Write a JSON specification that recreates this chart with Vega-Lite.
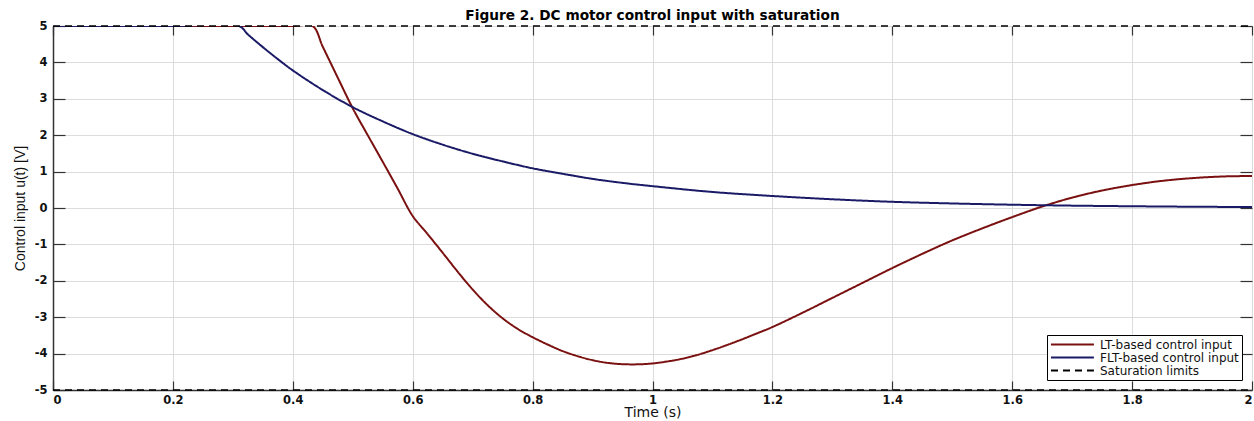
{
  "$schema": "https://vega.github.io/schema/vega-lite/v6.json",
  "autosize": {"type": "none"},
  "width": 1199,
  "height": 364,
  "padding": {"left": 53, "top": 26, "right": 2, "bottom": 31},
  "background": "white",
  "title": {"text": "Figure 2. DC motor control input with saturation", "font": "DejaVu Sans", "fontSize": 13.7, "fontWeight": "bold", "color": "black", "anchor": "middle", "offset": -3},
  "datasets": {
    "curves": [
      {"series": "LT-based control input", "t": 0, "u": 5},
      {"series": "LT-based control input", "t": 0.2, "u": 5},
      {"series": "LT-based control input", "t": 0.4, "u": 5},
      {"series": "LT-based control input", "t": 0.433, "u": 5},
      {"series": "LT-based control input", "t": 0.45, "u": 4.43},
      {"series": "LT-based control input", "t": 0.475, "u": 3.58},
      {"series": "LT-based control input", "t": 0.5, "u": 2.74},
      {"series": "LT-based control input", "t": 0.525, "u": 2.0},
      {"series": "LT-based control input", "t": 0.55, "u": 1.27},
      {"series": "LT-based control input", "t": 0.575, "u": 0.53},
      {"series": "LT-based control input", "t": 0.6, "u": -0.22},
      {"series": "LT-based control input", "t": 0.625, "u": -0.72},
      {"series": "LT-based control input", "t": 0.65, "u": -1.23},
      {"series": "LT-based control input", "t": 0.675, "u": -1.75},
      {"series": "LT-based control input", "t": 0.7, "u": -2.24},
      {"series": "LT-based control input", "t": 0.725, "u": -2.67},
      {"series": "LT-based control input", "t": 0.75, "u": -3.03},
      {"series": "LT-based control input", "t": 0.775, "u": -3.32},
      {"series": "LT-based control input", "t": 0.8, "u": -3.55},
      {"series": "LT-based control input", "t": 0.825, "u": -3.75},
      {"series": "LT-based control input", "t": 0.85, "u": -3.93},
      {"series": "LT-based control input", "t": 0.875, "u": -4.07},
      {"series": "LT-based control input", "t": 0.9, "u": -4.18},
      {"series": "LT-based control input", "t": 0.925, "u": -4.255},
      {"series": "LT-based control input", "t": 0.95, "u": -4.29},
      {"series": "LT-based control input", "t": 0.975, "u": -4.295},
      {"series": "LT-based control input", "t": 1.0, "u": -4.27},
      {"series": "LT-based control input", "t": 1.025, "u": -4.215},
      {"series": "LT-based control input", "t": 1.05, "u": -4.14},
      {"series": "LT-based control input", "t": 1.075, "u": -4.035},
      {"series": "LT-based control input", "t": 1.1, "u": -3.905},
      {"series": "LT-based control input", "t": 1.125, "u": -3.76},
      {"series": "LT-based control input", "t": 1.15, "u": -3.605},
      {"series": "LT-based control input", "t": 1.175, "u": -3.44},
      {"series": "LT-based control input", "t": 1.2, "u": -3.27},
      {"series": "LT-based control input", "t": 1.25, "u": -2.88},
      {"series": "LT-based control input", "t": 1.3, "u": -2.47},
      {"series": "LT-based control input", "t": 1.35, "u": -2.06},
      {"series": "LT-based control input", "t": 1.4, "u": -1.65},
      {"series": "LT-based control input", "t": 1.45, "u": -1.26},
      {"series": "LT-based control input", "t": 1.5, "u": -0.89},
      {"series": "LT-based control input", "t": 1.55, "u": -0.56},
      {"series": "LT-based control input", "t": 1.6, "u": -0.25},
      {"series": "LT-based control input", "t": 1.65, "u": 0.04},
      {"series": "LT-based control input", "t": 1.7, "u": 0.285},
      {"series": "LT-based control input", "t": 1.75, "u": 0.48},
      {"series": "LT-based control input", "t": 1.8, "u": 0.63},
      {"series": "LT-based control input", "t": 1.85, "u": 0.745},
      {"series": "LT-based control input", "t": 1.9, "u": 0.82},
      {"series": "LT-based control input", "t": 1.95, "u": 0.865},
      {"series": "LT-based control input", "t": 2.0, "u": 0.88},
      {"series": "FLT-based control input", "t": 0, "u": 5},
      {"series": "FLT-based control input", "t": 0.2, "u": 5},
      {"series": "FLT-based control input", "t": 0.31, "u": 5},
      {"series": "FLT-based control input", "t": 0.325, "u": 4.77},
      {"series": "FLT-based control input", "t": 0.35, "u": 4.42},
      {"series": "FLT-based control input", "t": 0.375, "u": 4.09},
      {"series": "FLT-based control input", "t": 0.4, "u": 3.78},
      {"series": "FLT-based control input", "t": 0.45, "u": 3.24},
      {"series": "FLT-based control input", "t": 0.5, "u": 2.77},
      {"series": "FLT-based control input", "t": 0.55, "u": 2.38},
      {"series": "FLT-based control input", "t": 0.6, "u": 2.03},
      {"series": "FLT-based control input", "t": 0.65, "u": 1.74},
      {"series": "FLT-based control input", "t": 0.7, "u": 1.49},
      {"series": "FLT-based control input", "t": 0.75, "u": 1.28},
      {"series": "FLT-based control input", "t": 0.8, "u": 1.09},
      {"series": "FLT-based control input", "t": 0.85, "u": 0.94},
      {"series": "FLT-based control input", "t": 0.9, "u": 0.80},
      {"series": "FLT-based control input", "t": 0.95, "u": 0.69},
      {"series": "FLT-based control input", "t": 1.0, "u": 0.60},
      {"series": "FLT-based control input", "t": 1.1, "u": 0.44},
      {"series": "FLT-based control input", "t": 1.2, "u": 0.33},
      {"series": "FLT-based control input", "t": 1.3, "u": 0.24},
      {"series": "FLT-based control input", "t": 1.4, "u": 0.17},
      {"series": "FLT-based control input", "t": 1.5, "u": 0.125},
      {"series": "FLT-based control input", "t": 1.6, "u": 0.09},
      {"series": "FLT-based control input", "t": 1.7, "u": 0.065},
      {"series": "FLT-based control input", "t": 1.8, "u": 0.048},
      {"series": "FLT-based control input", "t": 1.9, "u": 0.035},
      {"series": "FLT-based control input", "t": 2.0, "u": 0.026}
    ],
    "limits": [
      {"series": "Saturation limits", "g": "upper", "t": 0, "u": 5},
      {"series": "Saturation limits", "g": "upper", "t": 2, "u": 5},
      {"series": "Saturation limits", "g": "lower", "t": 0, "u": -5},
      {"series": "Saturation limits", "g": "lower", "t": 2, "u": -5}
    ]
  },
  "resolve": {"axis": {"x": "independent", "y": "independent"}},
  "layer": [
    {
      "data": {"name": "curves"},
      "mark": {"type": "line", "interpolate": "catmull-rom", "strokeWidth": 2, "clip": true},
      "encoding": {
        "x": {"field": "t", "type": "quantitative", "scale": {"domain": [0, 2], "nice": false},
          "axis": {"orient": "bottom", "title": "Time (s)", "titleFontSize": 14, "values": [0, 0.2, 0.4, 0.6, 0.8, 1, 1.2, 1.4, 1.6, 1.8, 2], "labelExpr": "'' + datum.value", "tickSize": -9, "labelPadding": 13, "titlePadding": 0, "grid": true}},
        "y": {"field": "u", "type": "quantitative", "scale": {"domain": [-5, 5], "nice": false},
          "axis": {"orient": "left", "title": "Control input u(t) [V]", "values": [-5, -4, -3, -2, -1, 0, 1, 2, 3, 4, 5], "labelExpr": "'' + datum.value", "tickSize": -12, "labelPadding": 18, "titlePadding": 7, "grid": true}},
        "color": {"field": "series", "type": "nominal", "scale": {"domain": ["LT-based control input", "FLT-based control input", "Saturation limits"], "range": ["#7a1010", "#1a1a66", "#000000"]}, "legend": {"title": null}},
        "strokeDash": {"field": "series", "type": "nominal", "scale": {"domain": ["LT-based control input", "FLT-based control input", "Saturation limits"], "range": [[1, 0], [1, 0], [7, 5]]}, "legend": {"title": null}},
        "order": {"field": "t"}
      }
    },
    {
      "data": {"name": "limits"},
      "mark": {"type": "line", "strokeWidth": 1.5, "clip": false},
      "encoding": {
        "x": {"field": "t", "type": "quantitative", "scale": {"domain": [0, 2], "nice": false},
          "axis": {"orient": "top", "title": null, "labels": false, "grid": false, "domain": false, "values": [0, 0.2, 0.4, 0.6, 0.8, 1, 1.2, 1.4, 1.6, 1.8, 2], "tickSize": -9}},
        "y": {"field": "u", "type": "quantitative", "scale": {"domain": [-5, 5], "nice": false},
          "axis": {"orient": "right", "title": null, "labels": false, "grid": false, "domain": false, "values": [-5, -4, -3, -2, -1, 0, 1, 2, 3, 4, 5], "tickSize": -12}},
        "detail": {"field": "g"},
        "color": {"field": "series", "type": "nominal", "legend": {"title": null}},
        "strokeDash": {"field": "series", "type": "nominal", "legend": {"title": null}}
      }
    }
  ],
  "config": {
    "font": "DejaVu Sans",
    "view": {"stroke": "#404040", "strokeWidth": 1},
    "axis": {
      "domainColor": "#333333",
      "domainWidth": 1.5,
      "tickColor": "#333333",
      "tickWidth": 1.2,
      "gridColor": "#dcdcdc",
      "gridWidth": 1,
      "labelFont": "DejaVu Sans",
      "labelFontSize": 11.5,
      "labelFontWeight": "bold",
      "labelColor": "#111111",
      "titleFont": "DejaVu Sans",
      "titleFontSize": 13,
      "titleFontWeight": "normal",
      "titleColor": "#111111"
    },
    "axisLeft": {"titleFont": "Liberation Sans", "titleFontSize": 14},
    "legend": {
      "orient": "bottom-right",
      "offset": 10,
      "fillColor": "white",
      "strokeColor": "#000000",
      "padding": 3,
      "labelFont": "DejaVu Sans",
      "labelFontSize": 12,
      "labelColor": "#111111",
      "symbolType": "M-1,0H6.8",
      "symbolSize": 121,
      "symbolStrokeWidth": 2,
      "labelOffset": 37,
      "rowPadding": 0
    }
  }
}
